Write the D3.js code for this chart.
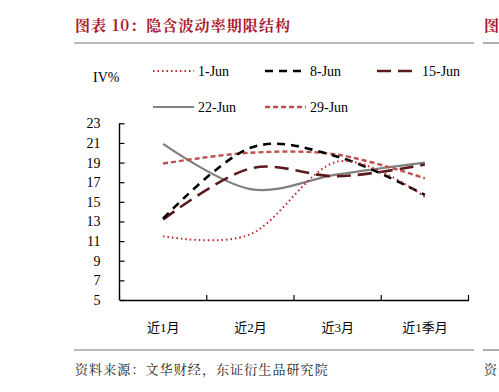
<!DOCTYPE html>
<html><head><meta charset="utf-8">
<script src="https://cdn.jsdelivr.net/npm/d3@7"></script>
<style>body{margin:0;background:#fff;} svg{display:block;}</style>
</head><body>
<script>
const categories = ["近1月", "近2月", "近3月", "近1季月"];
const yTicks = [5, 7, 9, 11, 13, 15, 17, 19, 21, 23];
const seriesNames = ["1-Jun", "8-Jun", "15-Jun", "22-Jun", "29-Jun"];
const jun1  = [11.5, 11.7, 19.1, 15.5];
const jun8  = [13.3, 20.5, 19.6, 15.7];
const jun15 = [13.2, 18.4, 17.6, 18.8];
const jun22 = [20.9, 16.3, 17.8, 19.0];
const jun29 = [18.9, 20.0, 19.8, 17.4];
const seriesValues = [jun1, jun8, jun15, jun22, jun29];

const styles = [
  {color: "#c0262d", width: 2, dash: "1.5,3"},
  {color: "#000000", width: 2.6, dash: "8,6"},
  {color: "#5a1a1e", width: 2.6, dash: "14,7"},
  {color: "#808080", width: 2.2, dash: null},
  {color: "#c0504d", width: 2.4, dash: "5,3"}
];

const W = 499, H = 392;
const svg = d3.select("body").append("svg").attr("width", W).attr("height", H);
const serif = "'Liberation Serif','Times New Roman','Noto Sans CJK SC',serif";
const cjk = "'Noto Serif CJK SC','Noto Sans CJK SC',sans-serif";

// header
svg.append("text").attr("x", 75).attr("y", 31).attr("fill", "#a8182b")
  .style("font-family", cjk).style("font-size", "15px").style("font-weight", "bold")
  .style("letter-spacing", "1.1px")
  .text("图表 10：隐含波动率期限结构");
svg.append("text").attr("x", 484).attr("y", 31).attr("fill", "#a8182b")
  .style("font-family", cjk).style("font-size", "15px").style("font-weight", "bold")
  .text("图");
svg.append("line").attr("x1", 74).attr("x2", 474).attr("y1", 43).attr("y2", 43).attr("stroke", "#777").attr("stroke-width", 1.2);
svg.append("line").attr("x1", 483).attr("x2", 499).attr("y1", 43).attr("y2", 43).attr("stroke", "#777").attr("stroke-width", 1.2);
svg.append("line").attr("x1", 74).attr("x2", 474).attr("y1", 350).attr("y2", 350).attr("stroke", "#777").attr("stroke-width", 1.2);
svg.append("line").attr("x1", 483).attr("x2", 499).attr("y1", 350).attr("y2", 350).attr("stroke", "#777").attr("stroke-width", 1.2);
svg.append("text").attr("x", 75).attr("y", 374).attr("fill", "#222")
  .style("font-family", cjk).style("font-size", "13px").style("letter-spacing", "1.1px")
  .text("资料来源：文华财经，东证衍生品研究院");
svg.append("text").attr("x", 484).attr("y", 374).attr("fill", "#222")
  .style("font-family", cjk).style("font-size", "13px")
  .text("资");

// scales
const x = d3.scaleBand().domain(categories).range([119.5, 468.5]).padding(0);
const y = d3.scaleLinear().domain([5, 23]).range([300, 123.3]);

const yAxis = svg.append("g").attr("transform", "translate(119.5,0)")
  .call(d3.axisRight(y).tickValues(yTicks).tickSize(5).tickFormat(d3.format("d")));
yAxis.select(".domain").remove();
yAxis.selectAll(".tick line").attr("stroke", "#000").attr("stroke-width", 1.2);
yAxis.selectAll(".tick text").attr("x", -19).attr("text-anchor", "end")
  .style("font-family", serif).style("font-size", "14px").attr("fill", "#000");
svg.append("line").attr("x1", 119.5).attr("x2", 119.5).attr("y1", 123.3).attr("y2", 300).attr("stroke", "#000").attr("stroke-width", 1.4);

const xAxis = svg.append("g").attr("transform", "translate(0,300)")
  .call(d3.axisBottom(x).tickSize(0));
xAxis.select(".domain").attr("stroke", "#000").attr("stroke-width", 1.4);
xAxis.selectAll(".tick text").attr("y", 23)
  .style("font-family", serif).style("font-size", "13px").attr("fill", "#000");
// boundary ticks (inward)
const bounds = categories.map(c => x(c)).concat([x.range()[1]]);
svg.append("g").selectAll("line").data(bounds).join("line")
  .attr("x1", d => d).attr("x2", d => d).attr("y1", 300).attr("y2", 295)
  .attr("stroke", "#000").attr("stroke-width", 1.2);

// lines
const line = d3.line()
  .x((d, i) => x(categories[i]) + x.bandwidth() / 2)
  .y(d => y(d))
  .curve(d3.curveCatmullRom.alpha(0));

const order = [3, 4, 2, 1, 0];
order.forEach(k => {
  const st = styles[k];
  svg.append("path").datum(seriesValues[k]).attr("d", line)
    .attr("fill", "none").attr("stroke", st.color).attr("stroke-width", st.width)
    .attr("stroke-dasharray", st.dash);
});

// legend
svg.append("text").attr("x", 93).attr("y", 82).style("font-family", serif).style("font-size", "14px").text("IV%");
const legPos = [[153, 71], [265, 71], [377, 71], [153, 107], [265, 107]];
seriesNames.forEach((n, k) => {
  const st = styles[k];
  const [lx, ly] = legPos[k];
  svg.append("line").attr("x1", lx).attr("x2", lx + 41).attr("y1", ly).attr("y2", ly)
    .attr("stroke", st.color).attr("stroke-width", st.width).attr("stroke-dasharray", st.dash);
  svg.append("text").attr("x", lx + 45).attr("y", ly + 5).style("font-family", serif)
    .style("font-size", "14px").attr("fill", "#000").text(n);
});
</script>
</body></html>
